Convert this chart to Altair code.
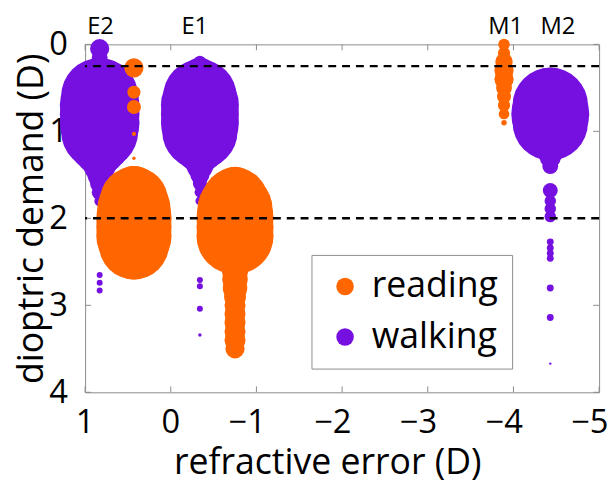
import altair as alt
import pandas as pd

# ---------------- data ----------------
# x position (refractive error, D) of each group column
E2_WALK_X = 0.83
E2_READ_X = 0.43
E1_WALK_X = -0.34
E1_READ_X = -0.75
M1_READ_X = -3.89
M2_WALK_X = -4.43

# dioptric demand (D) and relative frequency (marker weight) per column
E2_WALK_Y = [0.05, 0.15, 0.25, 0.35, 0.45, 0.55, 0.6, 0.7, 0.8, 0.9, 1.0, 1.1, 1.2, 1.3, 1.4, 1.5, 1.6, 1.7, 1.8, 2.65, 2.74, 2.83]
E2_WALK_W = [62, 42, 62, 167, 404, 744, 997, 1066, 1066, 1066, 997, 705, 463, 272, 167, 101, 62, 42, 19, 6, 6, 6]

E2_READ_Y = [0.27, 0.55, 0.72, 1.03, 1.31, 1.5, 1.6, 1.7, 1.8, 1.9, 2.0, 2.1, 2.2, 2.3, 2.4, 2.5]
E2_READ_W = [62, 29, 33, 3, 2, 51, 206, 463, 783, 908, 952, 952, 952, 824, 463, 116]

E1_WALK_Y = [0.2, 0.3, 0.4, 0.5, 0.6, 0.7, 0.8, 0.9, 1.0, 1.1, 1.2, 1.3, 1.4, 1.5, 1.6, 1.7, 1.8, 2.71, 2.78, 3.04, 3.34]
E1_WALK_W = [25, 116, 297, 561, 908, 1020, 1020, 1020, 952, 631, 375, 206, 116, 62, 33, 19, 13, 6, 6, 6, 2]

E1_READ_Y = [1.5, 1.6, 1.7, 1.8, 1.9, 2.0, 2.1, 2.2, 2.3, 2.4, 2.5, 2.6, 2.7, 2.8, 2.9, 3.0, 3.1, 3.2, 3.3, 3.4, 3.5]
E1_READ_W = [42, 186, 433, 744, 952, 997, 997, 997, 527, 249, 132, 116, 108, 101, 80, 74, 74, 74, 74, 74, 62]

M1_READ_Y = [0.0, 0.1, 0.2, 0.3, 0.4, 0.5, 0.6, 0.7, 0.8, 0.9]
M1_READ_W = [22, 25, 51, 62, 62, 42, 33, 25, 19, 5]

M2_WALK_Y = [0.5, 0.6, 0.7, 0.8, 0.9, 1.0, 1.1, 1.2, 1.3, 1.4, 1.68, 1.80, 1.89, 1.98, 2.27, 2.34, 2.40, 2.46, 2.80, 3.14, 3.67]
M2_WALK_W = [206, 561, 952, 1020, 952, 561, 272, 149, 74, 42, 37, 22, 22, 22, 8, 8, 8, 8, 8, 8, 1]

# reference demand levels (dashed lines)
DEMAND_LINES = [0.25, 2.0]

# group labels above the plot
GROUP_LABELS = ["E2", "E1", "M1", "M2"]
GROUP_LABEL_X = [0.82, -0.28, -3.91, -4.52]

X_TICKS = [1, 0, -1, -2, -3, -4, -5]
Y_TICKS = [0, 1, 2, 3, 4]

SERIES = ["reading", "walking"]
COLORS = ["#FF6600", "#7510E0"]

# ---------------- build tables ----------------
rows = []
# walking drawn first so reading sits on top
for x, ys, ws in [(E2_WALK_X, E2_WALK_Y, E2_WALK_W),
                  (E1_WALK_X, E1_WALK_Y, E1_WALK_W),
                  (M2_WALK_X, M2_WALK_Y, M2_WALK_W)]:
    for y, w in zip(ys, ws):
        rows.append({"x": x, "y": y, "w": w, "task": "walking"})
for x, ys, ws in [(E2_READ_X, E2_READ_Y, E2_READ_W),
                  (E1_READ_X, E1_READ_Y, E1_READ_W),
                  (M1_READ_X, M1_READ_Y, M1_READ_W)]:
    for y, w in zip(ys, ws):
        rows.append({"x": x, "y": y, "w": w, "task": "reading"})
pts = pd.DataFrame(rows)
pts["order"] = range(len(pts))

lines_df = pd.DataFrame({"y": DEMAND_LINES})
labels_df = pd.DataFrame({"label": GROUP_LABELS, "x": GROUP_LABEL_X})
xt_df = pd.DataFrame({"x": X_TICKS})
yt_df = pd.DataFrame({"y": Y_TICKS})

W, H = 520, 352
GRAY = "#8c8c8c"
FONT = "Open Sans"

xscale = alt.Scale(domain=[-5, 1], reverse=True, nice=False, zero=False)
yscale = alt.Scale(domain=[0, 4], reverse=True, nice=False, zero=False)

xaxis = alt.Axis(values=X_TICKS, format="d", labelAlign="right", labelOffset=9,
                 labelPadding=15, titleX=245, titleY=82, titleBaseline="alphabetic",
                 titleAlign="center")
yaxis = alt.Axis(values=Y_TICKS, format="d", labelPadding=18,
                 titleX=-43, titleY=176, titleAngle=-90, titleBaseline="alphabetic",
                 titleAlign="center")

XT = "refractive error (D)"
YT = "dioptric demand (D)"


def X(field):
    return alt.X(f"{field}:Q", scale=xscale, axis=xaxis, title=XT)


def Y(field):
    return alt.Y(f"{field}:Q", scale=yscale, axis=yaxis, title=YT)


tick_bottom = alt.Chart(xt_df).mark_rule(color=GRAY, strokeWidth=1).encode(
    x=X("x"), y=alt.value(H), y2=alt.value(H - 6))
tick_top = alt.Chart(xt_df).mark_rule(color=GRAY, strokeWidth=1).encode(
    x=X("x"), y=alt.value(0), y2=alt.value(6))
tick_left = alt.Chart(yt_df).mark_rule(color=GRAY, strokeWidth=1).encode(
    y=Y("y"), x=alt.value(0), x2=alt.value(6))
tick_right = alt.Chart(yt_df).mark_rule(color=GRAY, strokeWidth=1).encode(
    y=Y("y"), x=alt.value(W), x2=alt.value(W - 6))

points = alt.Chart(pts).mark_circle(opacity=1, strokeWidth=0).encode(
    x=X("x"),
    y=Y("y"),
    size=alt.Size("w:Q", scale=alt.Scale(domain=[0, 1000], range=[0, 6100]), legend=None),
    color=alt.Color("task:N", scale=alt.Scale(domain=SERIES, range=COLORS),
                    legend=alt.Legend(title=None, orient="none", legendX=229, legendY=213,
                                      padding=14, symbolOffset=2, labelOffset=9,
                                      rowPadding=15, labelFontSize=36, labelFont=FONT,
                                      labelColor="black",
                                      symbolSize=314, symbolType="circle",
                                      symbolStrokeWidth=0, symbolOpacity=1,
                                      strokeColor=GRAY, fillColor="white")),
    order=alt.Order("order:Q"),
)

dashed = alt.Chart(lines_df).mark_rule(color="black", strokeWidth=2.5, strokeDash=[8, 6]).encode(
    y=Y("y"))

group_text = alt.Chart(labels_df).mark_text(fontSize=24, font=FONT, baseline="alphabetic",
                                            align="center", color="black").encode(
    x=X("x"), y=alt.value(-11), text="label:N")

chart = alt.layer(tick_bottom, tick_top, tick_left, tick_right, points, dashed, group_text).properties(
    width=W, height=H,
    padding={"left": 78, "top": 34, "right": 9, "bottom": 94},
    autosize=alt.AutoSizeParams(type="none"),
).configure_view(
    stroke=GRAY, strokeWidth=1
).configure_axis(
    domain=False, ticks=False, grid=False,
    labelFont=FONT, labelFontSize=33, labelColor="black",
    titleFont=FONT, titleFontSize=36, titleFontWeight="normal", titleColor="black",
)

chart.save("out.html", embed_options={"renderer": "svg", "actions": False})
